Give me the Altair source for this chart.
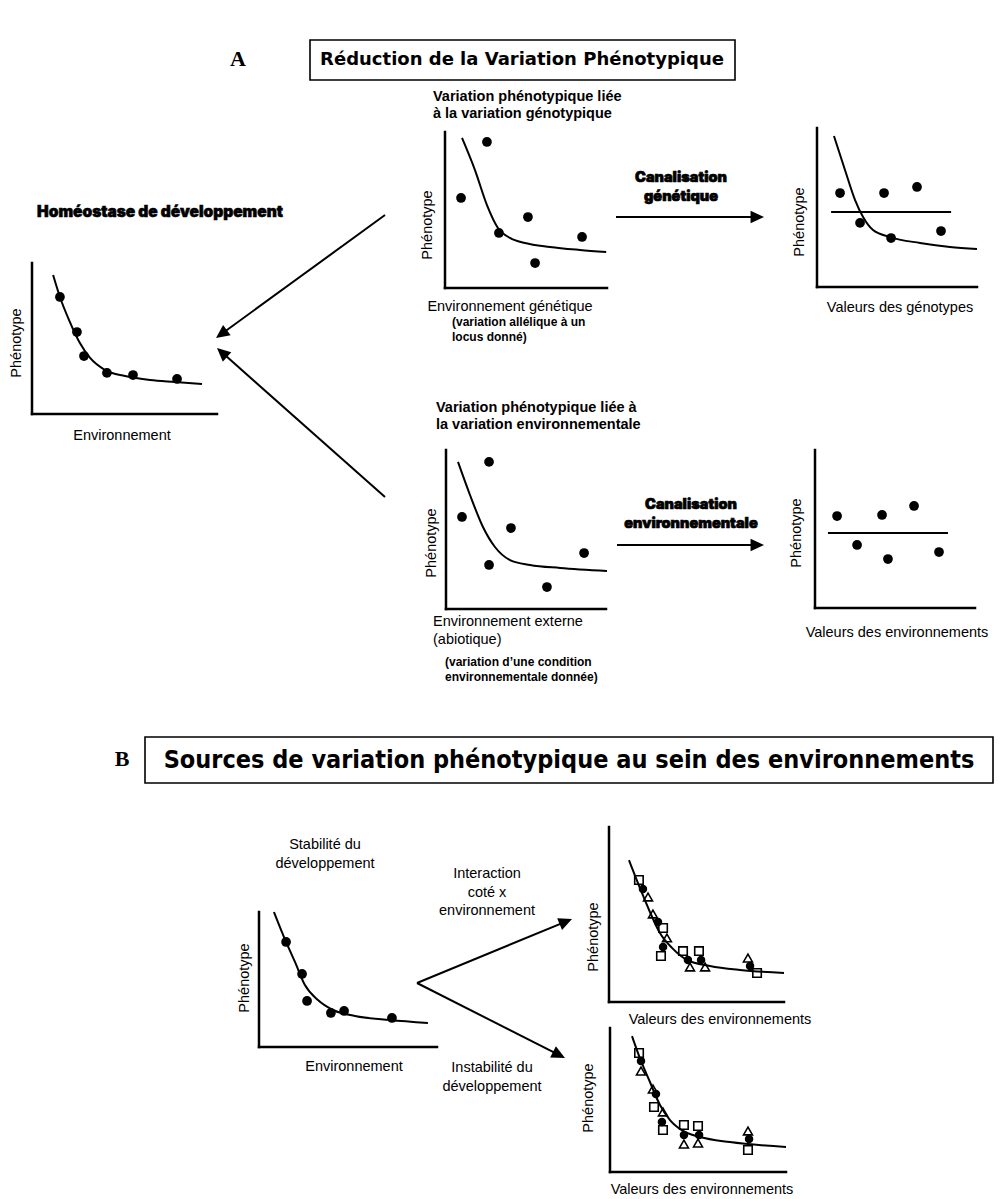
import altair as alt
import pandas as pd

# ---------------- values read in each mini-plot (local units 0-10) ----------------
# A - Homéostase de développement
hom_curve_x = [1.14, 1.51, 2.05, 2.59, 3.14, 3.95, 5.03, 6.38, 7.73, 9.19]
hom_curve_y = [9.21, 7.75, 6.09, 4.70, 3.71, 2.91, 2.52, 2.25, 2.12, 1.99]
hom_pts_x = [1.51, 2.43, 2.81, 4.05, 5.46, 7.84]
hom_pts_y = [7.75, 5.43, 3.84, 2.72, 2.58, 2.32]
# A - variation génotypique
gen_curve_x = [1.05, 1.85, 2.59, 3.27, 4.01, 4.94, 6.48, 8.33, 9.95]
gen_curve_y = [9.62, 7.56, 5.32, 3.85, 3.21, 2.88, 2.63, 2.44, 2.31]
gen_pts_x = [0.99, 2.59, 3.33, 5.12, 5.56, 8.46]
gen_pts_y = [5.77, 9.36, 3.53, 4.55, 1.60, 3.27]
# A - canalisation génétique
genc_curve_x = [1.06, 1.75, 2.38, 2.88, 3.50, 4.56, 6.44, 8.31, 10.0]
genc_curve_y = [9.50, 7.36, 5.47, 4.40, 3.58, 3.14, 2.77, 2.52, 2.39]
genc_pts_x = [1.44, 2.69, 4.19, 4.63, 6.25, 7.75]
genc_pts_y = [5.91, 4.03, 5.91, 3.08, 6.29, 3.52]
genc_mean = (0.88, 8.38, 4.72)
# A - variation environnementale
env_curve_x = [0.75, 1.50, 2.31, 3.06, 4.00, 5.25, 7.13, 10.06]
env_curve_y = [9.25, 7.17, 5.16, 3.90, 3.08, 2.77, 2.58, 2.39]
env_pts_x = [1.00, 2.69, 2.69, 4.06, 6.31, 8.63]
env_pts_y = [5.79, 9.25, 2.77, 5.09, 1.38, 3.52]
# A - canalisation environnementale
envc_pts_x = [1.38, 2.63, 4.19, 4.56, 6.19, 7.75]
envc_pts_y = [5.82, 3.99, 5.89, 3.10, 6.46, 3.54]
envc_mean = (0.81, 8.31, 4.75)
# B - stabilité du développement
stab_curve_x = [0.84, 1.52, 2.02, 2.58, 3.31, 4.16, 5.39, 7.36, 9.49]
stab_curve_y = [10.0, 7.78, 6.30, 4.59, 3.48, 2.74, 2.30, 2.00, 1.78]
stab_pts_x = [1.52, 2.42, 2.70, 4.04, 4.78, 7.47]
stab_pts_y = [7.78, 5.41, 3.41, 2.52, 2.67, 2.15]
# B - interaction coté x environnement
inter_curve_x = [1.14, 1.77, 2.34, 2.91, 3.60, 4.46, 5.77, 7.49, 10.0]
inter_curve_y = [8.11, 6.51, 5.14, 3.94, 3.09, 2.40, 2.06, 1.83, 1.66]
inter_circ_x = [1.94, 2.80, 3.09, 4.51, 5.26, 8.06]
inter_circ_y = [6.46, 4.57, 3.14, 2.40, 2.40, 2.06]
inter_sq_x = [1.71, 3.09, 2.97, 4.23, 5.14, 8.46]
inter_sq_y = [6.97, 4.23, 2.63, 2.91, 2.91, 1.66]
inter_tri_x = [2.23, 2.51, 3.31, 4.63, 5.49, 7.94]
inter_tri_y = [6.00, 5.03, 3.66, 2.00, 2.00, 2.51]
# B - instabilité du développement
inst_curve_x = [1.25, 1.76, 2.27, 2.84, 3.41, 4.15, 5.11, 6.82, 10.0]
inst_curve_y = [9.44, 7.71, 6.25, 4.65, 3.61, 2.85, 2.43, 2.08, 1.74]
inst_circ_x = [1.76, 2.61, 2.95, 4.20, 5.06, 7.90]
inst_circ_y = [7.71, 5.42, 3.47, 2.57, 2.57, 2.29]
inst_sq_x = [1.65, 2.50, 3.01, 4.20, 5.00, 7.84]
inst_sq_y = [8.26, 4.51, 2.92, 3.26, 3.19, 1.53]
inst_tri_x = [1.76, 2.44, 3.01, 4.20, 5.00, 7.84]
inst_tri_y = [7.01, 5.76, 4.17, 1.94, 2.01, 2.85]

# ---------------- layout (page pixels) ----------------
panels = pd.DataFrame({
    "panel": ["hom", "gen", "genc", "env", "envc", "stab", "inter", "inst"],
    "x0": [32, 445, 817, 446, 815, 259, 609, 610],
    "yb": [414, 288, 287, 609, 608, 1047, 1002, 1172],
    "w": [185, 162, 160, 160, 160, 178, 175, 176],
    "h": [151, 156, 159, 159, 158, 135, 175, 144],
})

arrows = pd.DataFrame({
    "x1": [385, 385, 616, 617, 417, 417],
    "y1": [215, 497, 217, 545, 983, 983],
    "x2": [216, 217, 764, 764, 572, 565],
    "y2": [338, 348, 217, 545, 919, 1058],
})

boxes = pd.DataFrame({"x1": [310, 145], "x2": [735, 993], "y1": [40, 737], "y2": [80, 783]})


def long_df(items):
    rows = []
    for p, xs, ys in items:
        for i, (a, b) in enumerate(zip(xs, ys)):
            rows.append({"panel": p, "i": i, "lx": a, "ly": b})
    return pd.DataFrame(rows)


curves = long_df([
    ("hom", hom_curve_x, hom_curve_y), ("gen", gen_curve_x, gen_curve_y),
    ("genc", genc_curve_x, genc_curve_y), ("env", env_curve_x, env_curve_y),
    ("stab", stab_curve_x, stab_curve_y), ("inter", inter_curve_x, inter_curve_y),
    ("inst", inst_curve_x, inst_curve_y),
])
circles_big = long_df([
    ("hom", hom_pts_x, hom_pts_y), ("gen", gen_pts_x, gen_pts_y),
    ("genc", genc_pts_x, genc_pts_y), ("env", env_pts_x, env_pts_y),
    ("envc", envc_pts_x, envc_pts_y), ("stab", stab_pts_x, stab_pts_y),
])
circles_small = long_df([("inter", inter_circ_x, inter_circ_y), ("inst", inst_circ_x, inst_circ_y)])
squares = long_df([("inter", inter_sq_x, inter_sq_y), ("inst", inst_sq_x, inst_sq_y)])
triangles = long_df([("inter", inter_tri_x, inter_tri_y), ("inst", inst_tri_x, inst_tri_y)])
means = pd.DataFrame({
    "panel": ["genc", "envc"],
    "lx": [genc_mean[0], envc_mean[0]],
    "lx2": [genc_mean[1], envc_mean[1]],
    "ly": [genc_mean[2], envc_mean[2]],
})

W, H = 986, 1191
XS = alt.Scale(domain=[8, 8 + W], zero=False, nice=False)
YS = alt.Scale(domain=[8, 8 + H], zero=False, nice=False, reverse=True)


def X(f):
    return alt.X(f"{f}:Q", scale=XS, axis=None)


def Y(f):
    return alt.Y(f"{f}:Q", scale=YS, axis=None)


def placed(df):
    return (alt.Chart(df)
            .transform_lookup(lookup="panel",
                              from_=alt.LookupData(panels, "panel", ["x0", "yb", "w", "h"]))
            .transform_calculate(px="datum.x0 + datum.lx / 10 * datum.w",
                                 py="datum.yb - datum.ly / 10 * datum.h"))


layers = []
# title boxes
layers.append(alt.Chart(boxes).mark_rect(fill="white", stroke="black", strokeWidth=1.6)
              .encode(x=X("x1"), x2="x2", y=Y("y1"), y2="y2"))
# axes
layers.append(alt.Chart(panels).transform_calculate(top="datum.yb - datum.h")
              .mark_rule(color="black", strokeWidth=2.5, strokeCap="square")
              .encode(x=X("x0"), y=Y("top"), y2="yb"))
layers.append(alt.Chart(panels).transform_calculate(xe="datum.x0 + datum.w")
              .mark_rule(color="black", strokeWidth=2.5, strokeCap="square")
              .encode(x=X("x0"), x2="xe", y=Y("yb")))
# curves
layers.append(placed(curves).mark_line(color="black", strokeWidth=2, interpolate="monotone")
              .encode(x=X("px"), y=Y("py"), detail="panel:N", order="i:Q"))
# mean lines
layers.append(placed(means).transform_calculate(px2="datum.x0 + datum.lx2 / 10 * datum.w")
              .mark_rule(color="black", strokeWidth=2)
              .encode(x=X("px"), x2="px2", y=Y("py")))
# points
layers.append(placed(circles_big).mark_point(shape="circle", filled=True, size=95, color="black", opacity=1)
              .encode(x=X("px"), y=Y("py")))
layers.append(placed(circles_small).mark_point(shape="circle", filled=True, size=72, color="black", opacity=1)
              .encode(x=X("px"), y=Y("py")))
layers.append(placed(squares).mark_point(shape="square", filled=False, size=72, color="black",
                                         strokeWidth=1.6, opacity=1)
              .encode(x=X("px"), y=Y("py")))
layers.append(placed(triangles).mark_point(shape="triangle-up", filled=False, size=80, color="black",
                                           strokeWidth=1.6, opacity=1)
              .encode(x=X("px"), y=Y("py")))
# arrows
arrow_base = alt.Chart(arrows).transform_calculate(
    dx="datum.x2 - datum.x1", dy="datum.y2 - datum.y1"
).transform_calculate(
    ln="sqrt(datum.dx * datum.dx + datum.dy * datum.dy)",
    ang="(atan2(datum.dx, -datum.dy) * 180 / PI + 360) % 360",
).transform_calculate(
    xe="datum.x2 - datum.dx / datum.ln * 8", ye="datum.y2 - datum.dy / datum.ln * 8"
)
layers.append(arrow_base.mark_rule(color="black", strokeWidth=2)
              .encode(x=X("x1"), y=Y("y1"), x2="xe", y2="ye"))
layers.append(arrow_base.mark_point(shape="M0,0L-0.95,2L0.95,2Z", filled=True, size=180,
                                    color="black", opacity=1)
              .encode(x=X("x2"), y=Y("y2"), angle=alt.Angle("ang:Q", scale=None)))


def texts(rows, fs, lh=None, **kw):
    """rows: (text, x, y of the first line's centre); multi-line texts use '\n'."""
    df = pd.DataFrame(rows, columns=["txt", "tx", "ty"])
    extra = {}
    if lh is not None:
        extra = {"lineBreak": "\n", "lineHeight": lh}
    return (alt.Chart(df)
            .mark_text(color="black", baseline="top", dy=-round(0.49 * fs), fontSize=fs, **extra, **kw)
            .encode(x=X("tx"), y=Y("ty"), text="txt:N"))


SANS = "Liberation Sans"
layers.append(texts([("A", 238, 60), ("B", 122, 760)], 22,
                    font="Liberation Serif", fontWeight="bold", align="center"))
layers.append(texts([("Réduction de la Variation Phénotypique", 522, 60)], 18,
                    font="DejaVu Sans", fontWeight="bold", align="center"))
layers.append(texts([("Sources de variation phénotypique au sein des environnements", 569, 760)], 25,
                    font="DejaVu Sans Condensed, Liberation Sans", fontWeight="bold", align="center"))
layers.append(texts([("Homéostase de développement", 160, 213)], 15.5,
                    font="Inter", fontWeight=900, align="center", stroke="black", strokeWidth=0.6))
layers.append(texts([("Canalisation\ngénétique", 681, 178),
                     ("Canalisation\nenvironnementale", 691, 505)], 14.5, lh=18.5,
                    font="Inter", fontWeight=900, align="center", stroke="black", strokeWidth=0.7))
layers.append(texts([("Variation phénotypique liée\nà la variation génotypique", 433, 97),
                     ("Variation phénotypique liée à\nla variation environnementale", 436, 408)],
                    14.5, lh=16.5, font=SANS, fontWeight="bold", align="left"))
layers.append(texts([("(variation allélique à un\nlocus donné)", 452, 323),
                     ("(variation d’une condition\nenvironnementale donnée)", 445, 663)],
                    12, lh=15, font=SANS, fontWeight="bold", align="left"))
layers.append(texts([("Environnement", 122, 436), ("Environnement génétique", 510, 307),
                     ("Valeurs des génotypes", 900, 308), ("Valeurs des environnements", 897, 633),
                     ("Stabilité du\ndéveloppement", 325, 845),
                     ("Interaction\ncoté x\nenvironnement", 487, 874),
                     ("Environnement", 354, 1067),
                     ("Instabilité du\ndéveloppement", 492, 1068),
                     ("Valeurs des environnements", 720, 1020),
                     ("Valeurs des environnements", 702, 1190)],
                    14.5, lh=18.7, font=SANS, align="center"))
layers.append(texts([("Environnement externe\n(abiotique)", 433, 622)],
                    14.5, lh=18, font=SANS, align="left"))
layers.append(alt.Chart(pd.DataFrame({
    "txt": ["Phénotype"] * 8,
    "tx": [17, 428, 800, 432, 797, 245, 594, 589],
    "ty": [343, 225, 222, 543, 533, 978, 937, 1098],
})).mark_text(color="black", baseline="middle", font=SANS, fontSize=14.5, align="center", angle=270)
    .encode(x=X("tx"), y=Y("ty"), text="txt:N"))

chart = (alt.layer(*layers)
         .properties(width=W, height=H, padding=0, autosize="none", background="white")
         .configure_view(stroke=None))

chart.save("out.html", embed_options={"renderer": "svg", "actions": False})
